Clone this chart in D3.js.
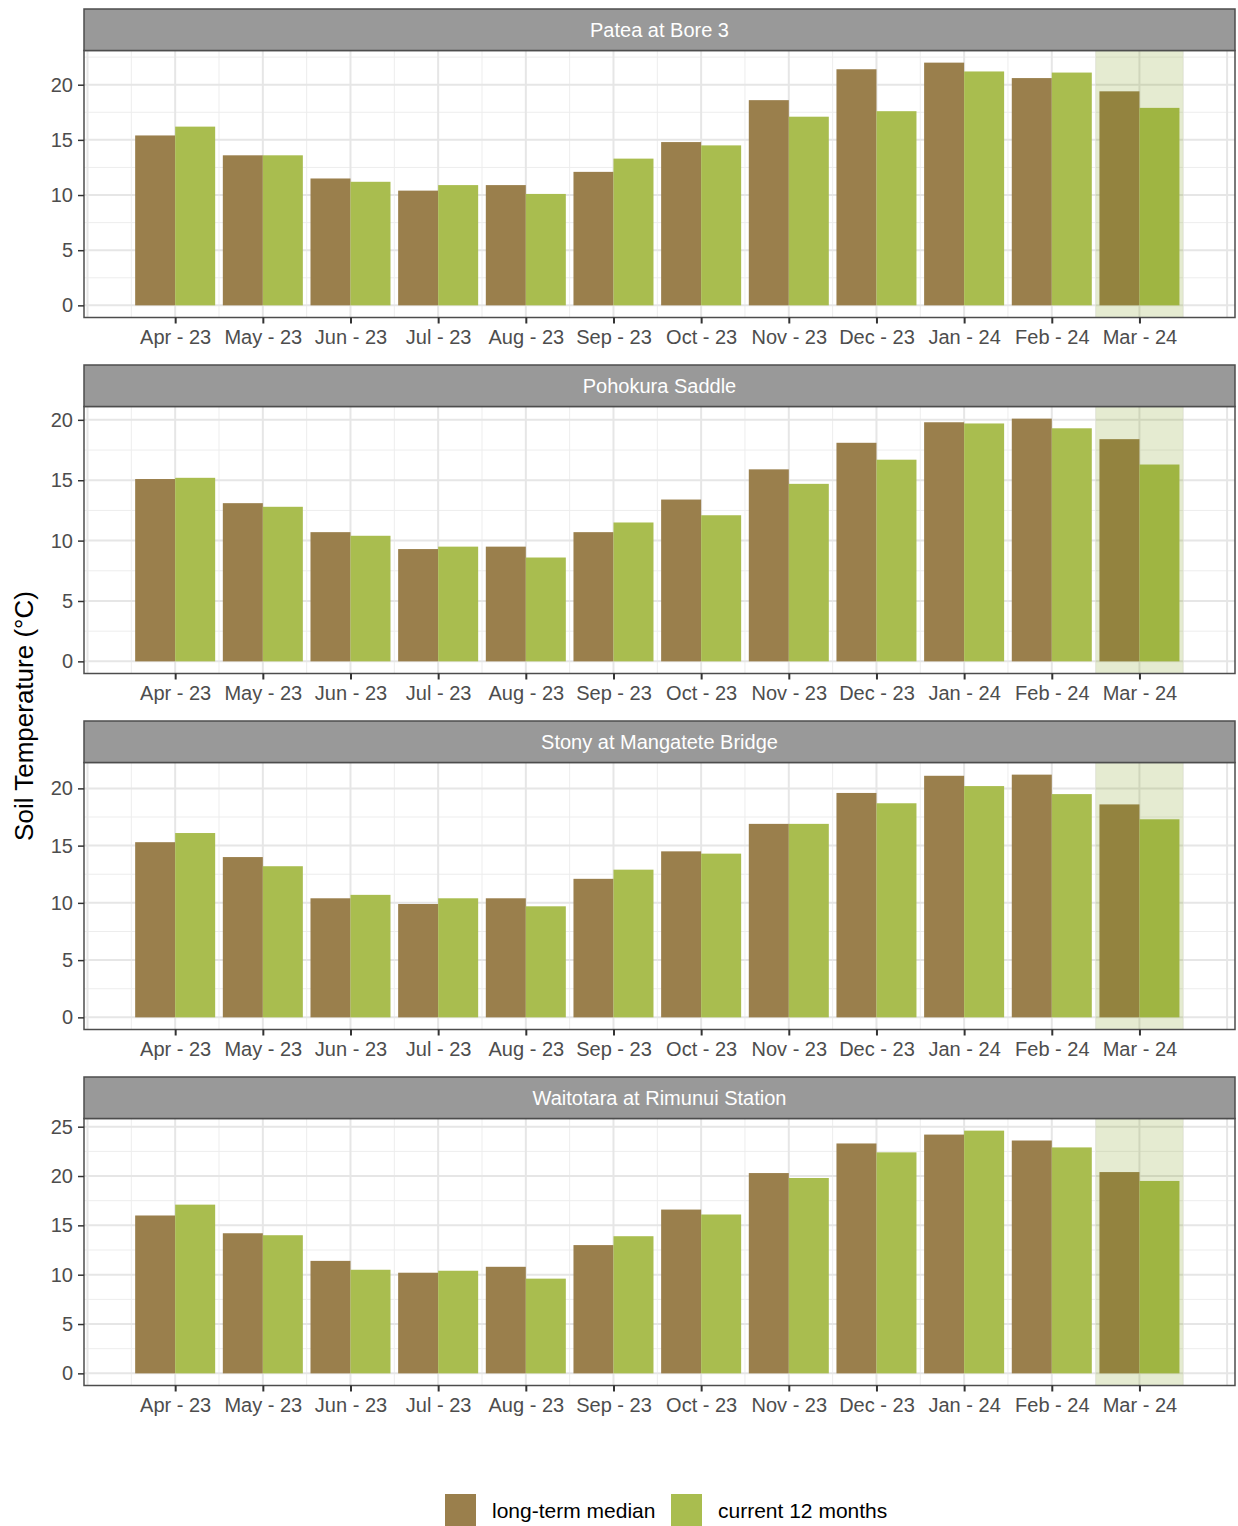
<!DOCTYPE html>
<html><head><meta charset="utf-8">
<script src="https://cdn.jsdelivr.net/npm/d3@7"></script>
<style>body{margin:0;background:#fff}svg{display:block;font-family:"Liberation Sans",Arial,sans-serif}</style>
</head><body>
<svg id="c" width="1238" height="1526"></svg>
<script>
const months = ["Apr - 23","May - 23","Jun - 23","Jul - 23","Aug - 23","Sep - 23","Oct - 23","Nov - 23","Dec - 23","Jan - 24","Feb - 24","Mar - 24"];
const sites = ["Patea at Bore 3","Pohokura Saddle","Stony at Mangatete Bridge","Waitotara at Rimunui Station"];
const seriesNames = ["long-term median","current 12 months"];
const pateaMedian   = [15.4,13.6,11.5,10.4,10.9,12.1,14.8,18.6,21.4,22.0,20.6,19.4];
const pateaCurrent  = [16.2,13.6,11.2,10.9,10.1,13.3,14.5,17.1,17.6,21.2,21.1,17.9];
const pohokuraMedian  = [15.1,13.1,10.7,9.3,9.5,10.7,13.4,15.9,18.1,19.8,20.1,18.4];
const pohokuraCurrent = [15.2,12.8,10.4,9.5,8.6,11.5,12.1,14.7,16.7,19.7,19.3,16.3];
const stonyMedian  = [15.3,14.0,10.4,9.9,10.4,12.1,14.5,16.9,19.6,21.1,21.2,18.6];
const stonyCurrent = [16.1,13.2,10.7,10.4,9.7,12.9,14.3,16.9,18.7,20.2,19.5,17.3];
const waitotaraMedian  = [16.0,14.2,11.4,10.2,10.8,13.0,16.6,20.3,23.3,24.2,23.6,20.4];
const waitotaraCurrent = [17.1,14.0,10.5,10.4,9.6,13.9,16.1,19.8,22.4,24.6,22.9,19.5];
const highlightMonth = "Mar - 24";

const panels = [
  {site:sites[0], median:pateaMedian, current:pateaCurrent},
  {site:sites[1], median:pohokuraMedian, current:pohokuraCurrent},
  {site:sites[2], median:stonyMedian, current:stonyCurrent},
  {site:sites[3], median:waitotaraMedian, current:waitotaraCurrent}
];
const colors = ["#9a7f4c","#a9bd4f"];

const svg = d3.select("#c");
const L = 84, R = 1235, stripH = 41.5, plotH = 267, step = 356, top0 = 9;
const x = d3.scaleLinear().domain([-1.04, 12.09]).range([L, R]);
const pxPerMonth = x(1) - x(0);
const barW = 40/87.65 * pxPerMonth;

panels.forEach((p, i) => {
  const t = top0 + i*step;
  const pt = t + stripH, pb = pt + plotH;
  const mx = d3.max(p.median.concat(p.current));
  const y = d3.scaleLinear().domain([-0.05*mx, 1.05*mx]).range([pb, pt]);
  const g = svg.append("g");
  // background
  g.append("rect").attr("x",L).attr("y",pt).attr("width",R-L).attr("height",plotH).attr("fill","#fff");
  // grid minor
  const yTicks = d3.range(0, mx*1.05+0.001, 5);
  const yMinor = d3.range(2.5, mx*1.05, 5);
  g.selectAll(".ymin").data(yMinor).join("line")
    .attr("x1",L).attr("x2",R).attr("y1",d=>y(d)).attr("y2",d=>y(d))
    .attr("stroke","#ededed").attr("stroke-width",1);
  const xMinor = d3.range(-0.5, 12.09, 1);
  g.selectAll(".xmin").data(xMinor).join("line")
    .attr("x1",d=>x(d)).attr("x2",d=>x(d)).attr("y1",pt).attr("y2",pb)
    .attr("stroke","#ededed").attr("stroke-width",1);
  // grid major
  g.selectAll(".ymaj").data(yTicks).join("line")
    .attr("x1",L).attr("x2",R).attr("y1",d=>y(d)).attr("y2",d=>y(d))
    .attr("stroke","#e6e6e6").attr("stroke-width",2);
  const xMajor = d3.range(-1, 13, 1);
  g.selectAll(".xmaj").data(xMajor).join("line")
    .attr("x1",d=>x(d)).attr("x2",d=>x(d)).attr("y1",pt).attr("y2",pb)
    .attr("stroke","#e6e6e6").attr("stroke-width",2);
  // bars
  const bars = [];
  months.forEach((m, j) => {
    bars.push({j, s:0, v:p.median[j]});
    bars.push({j, s:1, v:p.current[j]});
  });
  g.selectAll(".bar").data(bars).join("rect")
    .attr("x", d => x(d.j) - (d.s===0 ? barW : 0))
    .attr("width", barW)
    .attr("y", d => y(d.v))
    .attr("height", d => y(0) - y(d.v))
    .attr("fill", d => colors[d.s]);
  // highlight
  const hi = months.indexOf(highlightMonth);
  g.append("rect").attr("x", x(hi-0.5)).attr("width", x(hi+0.5)-x(hi-0.5))
    .attr("y", pt).attr("height", plotH)
    .attr("fill","rgb(118,150,10)").attr("fill-opacity",0.19);
  // border
  g.append("rect").attr("x",L).attr("y",pt).attr("width",R-L).attr("height",plotH)
    .attr("fill","none").attr("stroke","#4d4d4d").attr("stroke-width",1.5);
  // strip
  g.append("rect").attr("x",L).attr("y",t).attr("width",R-L).attr("height",stripH)
    .attr("fill","#999999").attr("stroke","#4d4d4d").attr("stroke-width",1.5);
  g.append("text").attr("x",(L+R)/2).attr("y",t+stripH/2+7).attr("text-anchor","middle")
    .attr("fill","#fff").attr("font-size",20).text(p.site);
  // y axis
  const ya = g.append("g").attr("transform",`translate(${L},0)`)
    .call(d3.axisLeft(y).tickValues(yTicks).tickSize(6).tickPadding(5).tickFormat(d3.format("d")));
  ya.select(".domain").remove();
  ya.selectAll("line").attr("stroke","#333").attr("stroke-width",1.5);
  ya.selectAll("text").attr("font-size",20).attr("fill","#4d4d4d").attr("font-family","Liberation Sans, Arial, sans-serif");
  // x axis
  const xa = g.append("g").attr("transform",`translate(0,${pb})`)
    .call(d3.axisBottom(x).tickValues(d3.range(0,12)).tickSize(6).tickPadding(6).tickFormat(d=>months[d]));
  xa.select(".domain").remove();
  xa.selectAll("line").attr("stroke","#333").attr("stroke-width",2);
  xa.selectAll("text").attr("font-size",20).attr("fill","#4d4d4d").attr("font-family","Liberation Sans, Arial, sans-serif");
});

// y title
svg.append("text").attr("transform","translate(33,716) rotate(-90)")
  .attr("text-anchor","middle").attr("font-size",26).attr("fill","#000").text("Soil Temperature (°C)");

// legend
const lg = svg.append("g");
const legendPos = [{x:445, tx:492},{x:671, tx:718}];
seriesNames.forEach((n, i) => {
  lg.append("rect").attr("x",legendPos[i].x).attr("y",1494).attr("width",31).attr("height",32).attr("fill",colors[i]);
  lg.append("text").attr("x",legendPos[i].tx).attr("y",1518).attr("font-size",21).attr("fill","#000").text(n);
});
</script>
</body></html>
